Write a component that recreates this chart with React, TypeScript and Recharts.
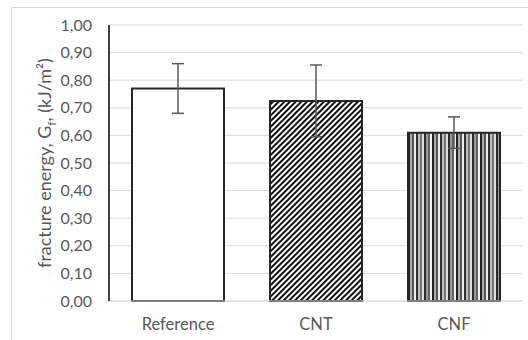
import { Bar, BarChart, CartesianGrid, Cell, ErrorBar, Label, XAxis, YAxis } from "recharts";

const categories = ["Reference", "CNT", "CNF"];
const energy = [0.77, 0.725, 0.61];
const errors = [0.09, 0.13, 0.057];
const yTicks = [0, 0.1, 0.2, 0.3, 0.4, 0.5, 0.6, 0.7, 0.8, 0.9, 1.0];

const fills = ["#ffffff", "url(#hatchDiag)", "url(#hatchVert)"];
const stripeGreys = ["#222", "#aaa", "#555", "#eee", "#333", "#bbb", "#777", "#ddd", "#2a2a2a", "#999", "#666", "#f2f2f2"];

const font = "Lato, 'Open Sans', sans-serif";
const textColor = "#595959";
const boxColor = "#404040";

const YLabel = () => (
  <text
    x={44}
    y={163}
    transform="rotate(-90 44 163)"
    textAnchor="middle"
    dominantBaseline="central"
    fill={textColor}
    fontSize={18}
    fontFamily={font}
  >
    fracture energy, G
    <tspan baselineShift="sub" fontSize={12}>f</tspan>
    <tspan>, (kJ/m²)</tspan>
  </text>
);

const App = () => {
  const data = categories.map((name, i) => ({ name, value: energy[i], err: errors[i] }));
  return (
    <div style={{ position: "absolute", left: 0, top: 0, width: 528, height: 340, background: "#fff", overflow: "hidden" }}>
      <div
        style={{
          position: "absolute",
          left: 11,
          top: 7,
          width: 540,
          height: 360,
          border: "1px solid #d9d9d9",
        }}
      />
      <BarChart
        width={528}
        height={340}
        data={data}
        margin={{ top: 25, right: 5, left: 0, bottom: 0 }}
        style={{ position: "absolute", left: 0, top: 0 }}
      >
        <defs>
          <pattern id="hatchDiag" patternUnits="userSpaceOnUse" width={4} height={4} patternTransform="rotate(45)">
            <rect x={0} y={0} width={4} height={4} fill="#fff" />
            <rect x={0} y={0} width={2} height={4} fill="#111" />
          </pattern>
          <pattern id="hatchVert" patternUnits="userSpaceOnUse" width={stripeGreys.length * 2} height={10}>
            {stripeGreys.map((c, i) => (
              <rect key={i} x={i * 2} y={0} width={2} height={10} fill={c} />
            ))}
          </pattern>
        </defs>
        <CartesianGrid horizontal vertical={false} stroke="#d9d9d9" strokeWidth={1} />
        <XAxis
          dataKey="name"
          height={39}
          axisLine={{ stroke: "#d9d9d9", strokeWidth: 1 }}
          tickLine={false}
          tickMargin={11}
          tick={{ fill: textColor, fontSize: 16.5, fontFamily: font }}
        />
        <XAxis
          xAxisId="top"
          dataKey="name"
          orientation="top"
          height={0}
          tick={false}
          tickLine={false}
          axisLine={{ stroke: boxColor, strokeWidth: 2 }}
        />
        <YAxis
          width={109}
          domain={[0, 1]}
          ticks={yTicks}
          interval={0}
          tickFormatter={(v: number) => v.toFixed(2).replace(".", ",")}
          axisLine={{ stroke: boxColor, strokeWidth: 2 }}
          tickLine={false}
          tickSize={0}
          tickMargin={17}
          tick={{ fill: textColor, fontSize: 16, fontFamily: font }}
        >
          <Label content={<YLabel />} />
        </YAxis>
        <YAxis
          yAxisId="right"
          orientation="right"
          width={0}
          domain={[0, 1]}
          tick={false}
          tickLine={false}
          axisLine={{ stroke: boxColor, strokeWidth: 2 }}
        />
        <Bar dataKey="value" barSize={92} stroke="#262626" strokeWidth={2} isAnimationActive={false}>
          {data.map((d, i) => (
            <Cell key={d.name} fill={fills[i]} />
          ))}
          <ErrorBar dataKey="err" width={6} stroke="#595959" strokeWidth={1.5} direction="y" />
        </Bar>
      </BarChart>
    </div>
  );
};

export default App;
